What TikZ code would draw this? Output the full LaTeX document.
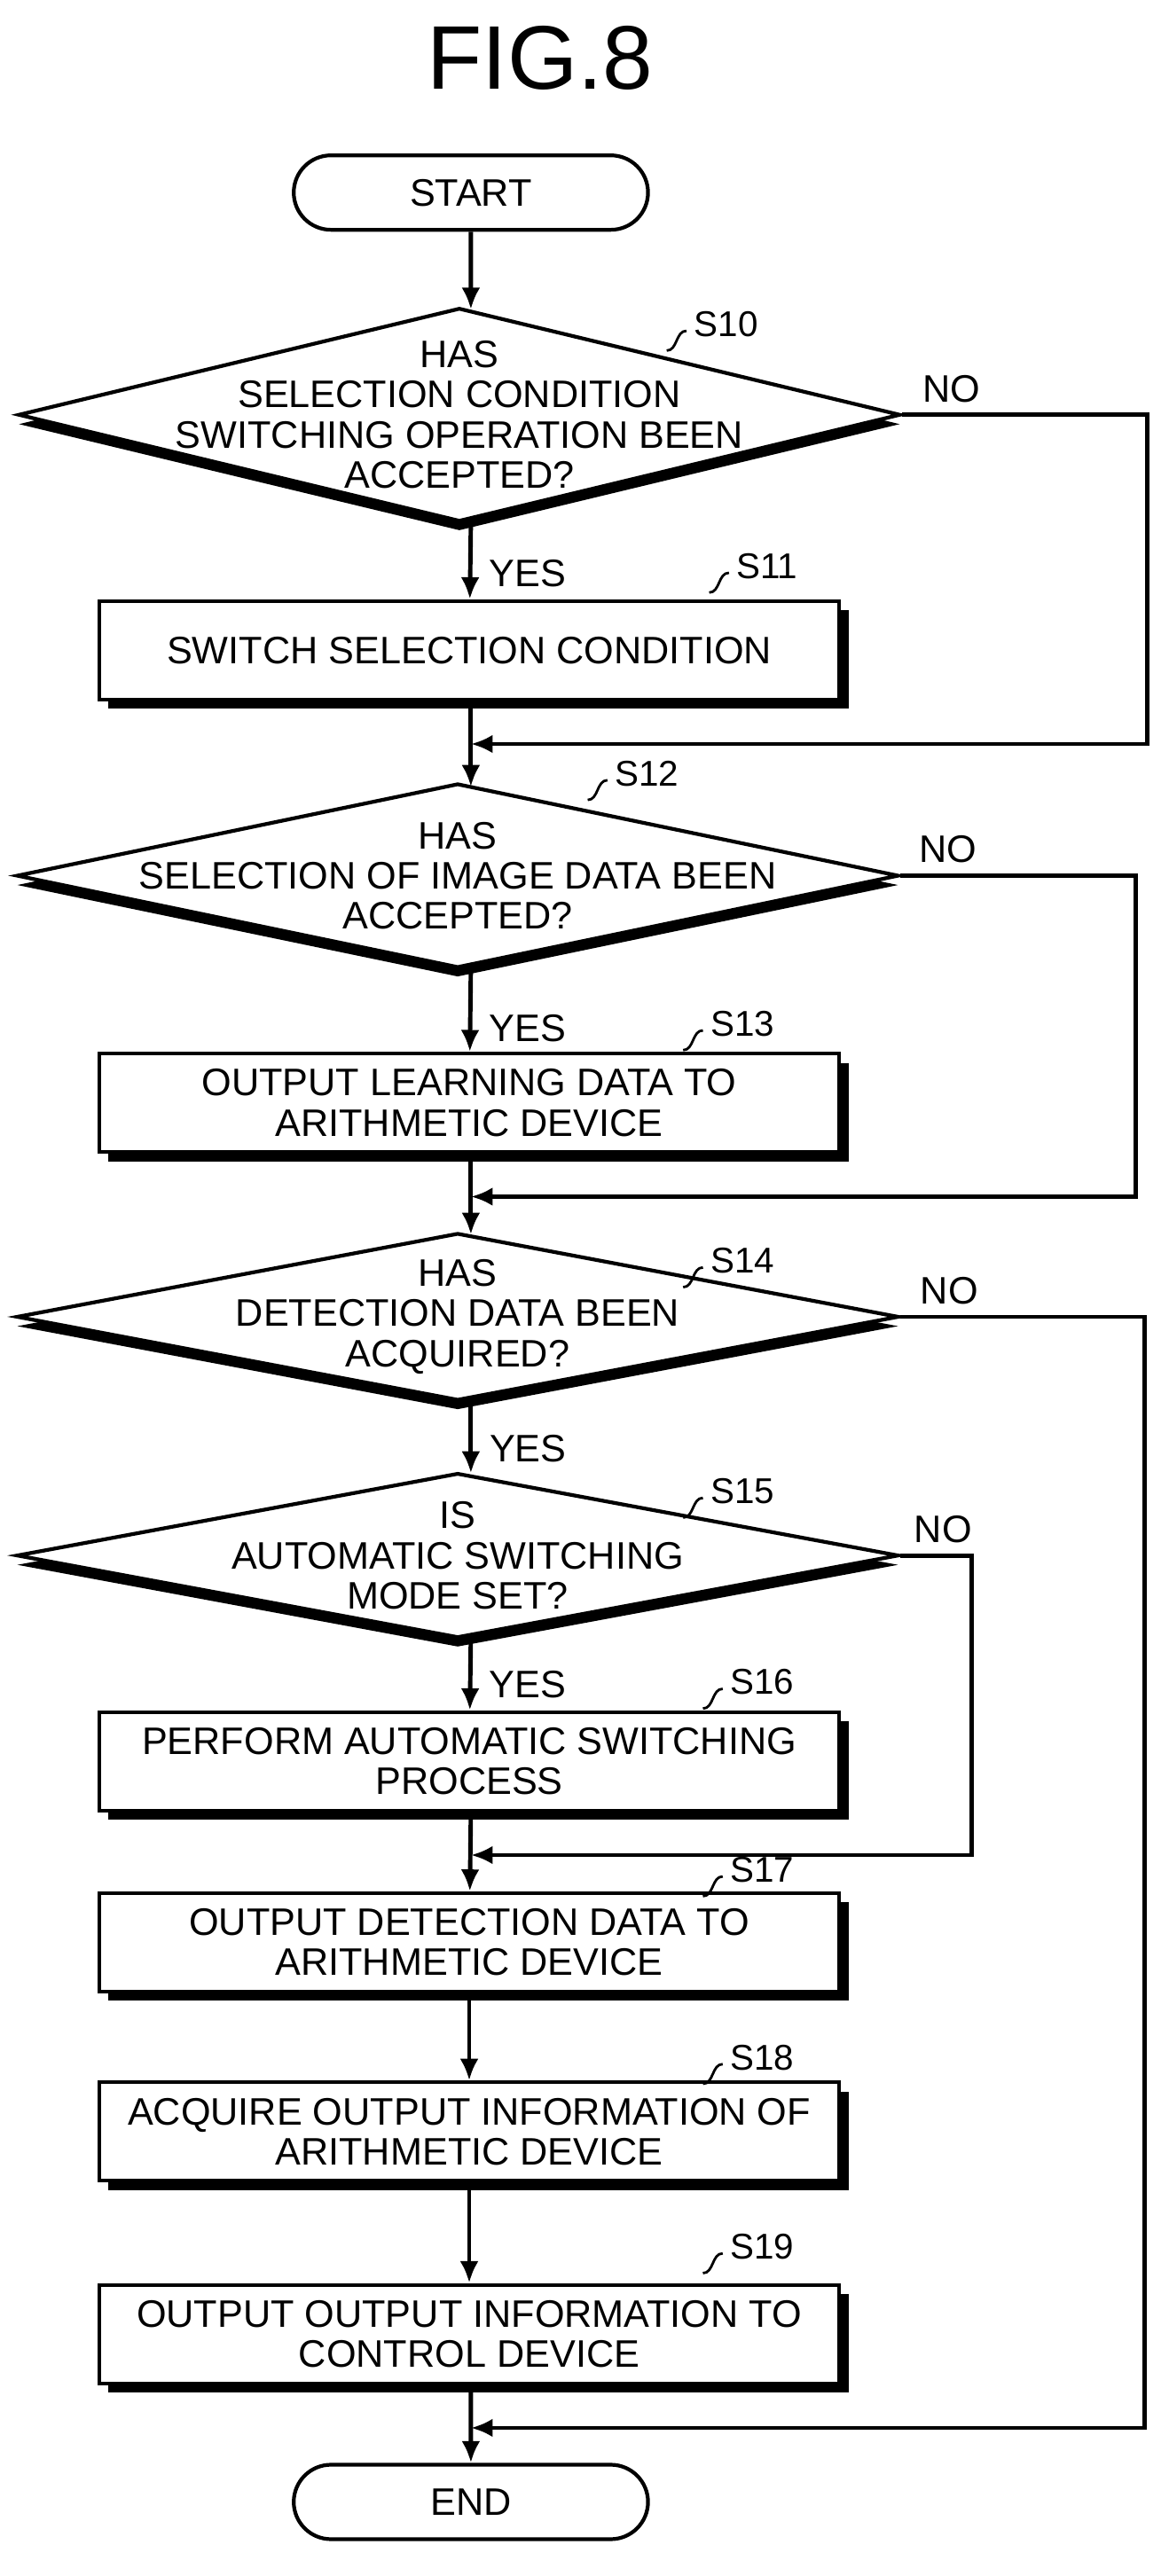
\documentclass[tikz,border=0pt]{standalone}
\usepackage{fontspec}
\setmainfont{Liberation Sans}
\usetikzlibrary{shapes.geometric, shapes.misc, shadows, calc, arrows.meta}
\tikzset{
	every node/.style={font=\fontsize{12.3}{12.9}\selectfont, align=center},
	term/.style={draw, rounded rectangle, line width=1.2pt, minimum width=4.23cm, minimum height=0.84cm, fill=white},
	proc/.style={draw, rectangle, line width=1.2pt, minimum width=8.35cm, minimum height=1.11cm, fill=white,
		drop shadow={shadow xshift=3pt, shadow yshift=-3pt, opacity=1, fill=black}},
	dec/.style={draw, diamond, line width=1.2pt, inner sep=0pt, fill=white, minimum width=9.95cm,
		drop shadow={shadow xshift=0pt, shadow yshift=-3pt, opacity=1, fill=black}},
	steplabel/.style={font=\fontsize{11.5}{12}\selectfont},
	flow/.style={line width=1.4pt, -{Latex[length=7pt,width=6pt]}},
	squig/.style={line width=0.8pt},
}
\begin{document}
\begin{tikzpicture}[x=0.018563cm, y=-0.018563cm]
	\useasboundingbox (0,0) rectangle (710,1565);
	\node (fig) at (328,35) {\fontsize{29}{32}\selectfont FIG.8};
	
	\node (start) [term] at (286,117) {START};
	
	\node (d10) [dec, minimum height=2.41cm] at (279,252) {};
	\node at (d10) {HAS\\SELECTION CONDITION\\SWITCHING OPERATION BEEN\\ACCEPTED?};
	\node (b11) [proc] at (285,395) {SWITCH SELECTION CONDITION};
	\node (d12) [dec, minimum height=2.08cm] at (278,532) {};
	\node at (d12) {HAS\\SELECTION OF IMAGE DATA BEEN\\ACCEPTED?};
	\node (b13) [proc] at (285,670) {OUTPUT LEARNING DATA TO\\ARITHMETIC DEVICE};
	\node (d14) [dec, minimum height=1.89cm] at (278,800) {};
	\node at (d14) {HAS\\DETECTION DATA BEEN\\ACQUIRED?};
	\node (d15) [dec, minimum height=1.86cm] at (278,945) {};
	\node at (d15) {IS\\AUTOMATIC SWITCHING\\MODE SET?};
	\node (b16) [proc] at (285,1070) {PERFORM AUTOMATIC SWITCHING\\PROCESS};
	\node (b17) [proc] at (285,1180) {OUTPUT DETECTION DATA TO\\ARITHMETIC DEVICE};
	\node (b18) [proc] at (285,1295) {ACQUIRE OUTPUT INFORMATION OF\\ARITHMETIC DEVICE};
	\node (b19) [proc] at (285,1418) {OUTPUT OUTPUT INFORMATION TO\\CONTROL DEVICE};
	\node (end) [term] at (286,1520) {END};
	
	% step labels
	\node (l10) [steplabel] at (441,197) {S10};
	\node (l11) [steplabel] at (466,344) {S11};
	\node (l12) [steplabel] at (393,470) {S12};
	\node (l13) [steplabel] at (451,622) {S13};
	\node (l14) [steplabel] at (451,766) {S14};
	\node (l15) [steplabel] at (451,906) {S15};
	\node (l16) [steplabel] at (463,1022) {S16};
	\node (l17) [steplabel] at (463,1136) {S17};
	\node (l18) [steplabel] at (463,1250) {S18};
	\node (l19) [steplabel] at (463,1365) {S19};
	\foreach \l in {l10,l11,l12,l13,l14,l15,l16,l17,l18,l19}
		\draw [squig] ($(\l.west)+(2,4)$) to[out=180,in=0] ++(-12,12);
	
	% merge points
	\coordinate (m1) at (286,452);
	\coordinate (m2) at (286,727);
	\coordinate (m3) at (286,1127);
	\coordinate (m4) at (286,1475);
	
	\draw [flow] (start) -- (286,188);
	\draw [flow] (286,318) -- node[right, xshift=2pt, yshift=-4pt] {YES} (b11);
	\draw [flow] (b11.south -| 286,0) -- (286,478);
	\draw [flow] (286,588) -- node[right, xshift=2pt, yshift=-6pt] {YES} (b13);
	\draw [flow] (b13.south -| 286,0) -- (286,750);
	\draw [flow] (286,850) -- node[right, xshift=2pt, yshift=-4pt] {YES} (286,895);
	\draw [flow] (286,993) -- node[right, xshift=2pt, yshift=-4pt] {YES} (b16);
	\draw [flow] (b16.south -| 286,0) -- (b17);
	\draw [flow] (b17) -- (b18);
	\draw [flow] (b18) -- (b19);
	\draw [flow] (b19.south -| 286,0) -- (end);
	
	% NO branches
	\draw [flow] (d10.east) -- node[above, pos=0.2] {NO} (697,252) |- (m1);
	\draw [flow] (d12.east) -- node[above, pos=0.2] {NO} (690,532) |- (m2);
	\draw [flow] (d14.east) -- node[above, pos=0.2] {NO} (695,800) |- (m4);
	\draw [flow] (d15.east) -- node[above, pos=0.6] {NO} (590,945) |- (m3);
\end{tikzpicture}
\end{document}
